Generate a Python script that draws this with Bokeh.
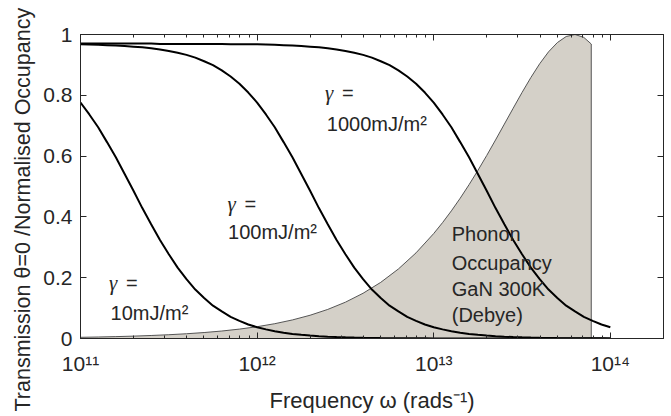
from bokeh.plotting import figure
from bokeh.models import Range1d, LinearAxis, LogAxis, FixedTicker, Label, NumeralTickFormatter, Title
from bokeh.embed import file_html
from bokeh.resources import INLINE

# ---- data ----
# log10 of angular frequency (rad/s): 11.00, 11.05, ..., 14.00
log_omega = [11.00 + 0.05 * i for i in range(61)]

trans_10 = [0.776, 0.737, 0.695, 0.646, 0.596, 0.541, 0.486, 0.429, 0.376, 0.324,
            0.277, 0.233, 0.195, 0.161, 0.133, 0.108, 0.089, 0.071, 0.058, 0.046,
            0.037, 0.030, 0.024, 0.019, 0.015, 0.012, 0.0097, 0.0076, 0.0061, 0.0049,
            0.0039, 0.0031, 0.0024, 0.0019, 0.0015, 0.0012, 0.0010, 0.0008, 0.0006, 0.0005,
            0.0004, 0.0003, 0.0002, 0.0002, 0.0001, 0.0001, 0.0001, 0.0, 0.0, 0.0,
            0.0, 0.0, 0.0, 0.0, 0.0, 0.0, 0.0, 0.0, 0.0, 0.0, 0.0]

trans_100 = [0.968, 0.967, 0.966, 0.965, 0.964, 0.962, 0.960, 0.958, 0.955, 0.951,
             0.946, 0.940, 0.933, 0.924, 0.912, 0.899, 0.882, 0.862, 0.838, 0.809,
             0.776, 0.737, 0.695, 0.646, 0.596, 0.541, 0.486, 0.429, 0.376, 0.324,
             0.277, 0.233, 0.195, 0.161, 0.133, 0.108, 0.089, 0.071, 0.058, 0.046,
             0.037, 0.030, 0.024, 0.019, 0.015, 0.012, 0.0097, 0.0076, 0.0061, 0.0049,
             0.0039, 0.0031, 0.0024, 0.0019, 0.0015, 0.0012, 0.0010, 0.0008, 0.0006, 0.0005, 0.0004]

trans_1000 = [0.970, 0.970, 0.970, 0.970, 0.970, 0.970, 0.970, 0.970, 0.970, 0.969,
              0.969, 0.969, 0.969, 0.969, 0.969, 0.969, 0.969, 0.968, 0.968, 0.968,
              0.968, 0.967, 0.966, 0.965, 0.964, 0.962, 0.960, 0.958, 0.955, 0.951,
              0.946, 0.940, 0.933, 0.924, 0.912, 0.899, 0.882, 0.862, 0.838, 0.809,
              0.776, 0.737, 0.695, 0.646, 0.596, 0.541, 0.486, 0.429, 0.376, 0.324,
              0.277, 0.233, 0.195, 0.161, 0.133, 0.108, 0.089, 0.071, 0.058, 0.046, 0.037]

# phonon occupancy (GaN 300K, Debye), normalised
occ_log_omega = [11.0, 11.1, 11.2, 11.3, 11.4, 11.5, 11.6, 11.7, 11.8, 11.9,
                 12.0, 12.1, 12.2, 12.3, 12.4, 12.5, 12.6, 12.7, 12.8, 12.9,
                 13.0, 13.05, 13.1, 13.15, 13.2, 13.25, 13.3, 13.35, 13.4, 13.45,
                 13.5, 13.55, 13.6, 13.65, 13.7, 13.75, 13.8, 13.85, 13.892]
occupancy = [0.0039, 0.0049, 0.0062, 0.0078, 0.0099, 0.0124, 0.0156, 0.0196, 0.0246, 0.0309,
             0.0388, 0.0487, 0.0611, 0.0765, 0.0957, 0.1194, 0.1488, 0.1847, 0.2287, 0.2818,
             0.3453, 0.3812, 0.4199, 0.4615, 0.5059, 0.5528, 0.6020, 0.6531, 0.7053, 0.7576,
             0.8092, 0.8585, 0.9038, 0.9429, 0.9734, 0.9934, 1.0, 0.9904, 0.9687]

x_ticks = [1e11, 1e12, 1e13, 1e14]
x_tick_labels = ["10\u00b9\u00b9", "10\u00b9\u00b2", "10\u00b9\u00b3", "10\u00b9\u2074"]
y_ticks = [0, 0.2, 0.4, 0.6, 0.8, 1]

curve_labels = ["10mJ/m\u00b2", "100mJ/m\u00b2", "1000mJ/m\u00b2"]
phonon_label = ["Phonon", "Occupancy", "GaN 300K", "(Debye)"]

# ---- derived ----
omega = [10 ** v for v in log_omega]
occ_omega = [10 ** v for v in occ_log_omega]
patch_x = [occ_omega[0]] + occ_omega + [occ_omega[-1]]
patch_y = [0.0] + occupancy + [0.0]
minor = [k * 10 ** d for d in (11, 12, 13) for k in range(2, 10)]

AX = "#262626"
FONT = "Liberation Sans"

p = figure(width=671, height=416, x_axis_type="log",
           x_range=Range1d(1e11, 2e14), y_range=Range1d(0, 1),
           output_backend="svg", toolbar_location=None,
           min_border_left=80, min_border_right=8, min_border_top=34, min_border_bottom=78)
p.grid.visible = False
p.outline_line_color = AX
p.outline_line_width = 1
p.background_fill_color = "white"
p.border_fill_color = "white"

# shaded occupancy
p.patch(patch_x, patch_y, fill_color="#d4d0c8", line_color="#555555", line_width=1)

# transmission curves
for ys in (trans_10, trans_100, trans_1000):
    p.line(omega, ys, line_color="black", line_width=2)

def style_axis(ax, show_labels):
    ax.axis_line_color = AX
    ax.major_tick_line_color = AX
    ax.minor_tick_line_color = AX
    ax.major_tick_in = 6
    ax.major_tick_out = 0
    ax.minor_tick_in = 3
    ax.minor_tick_out = 0
    ax.major_label_text_font = FONT
    if show_labels:
        ax.major_label_text_font_size = "21px"
        ax.major_label_text_color = AX
    else:
        ax.major_label_text_font_size = "1px"
        ax.major_label_text_color = None
        ax.major_label_standoff = 0

xb = p.xaxis[0]
xb.ticker = FixedTicker(ticks=x_ticks, minor_ticks=minor)
xb.major_label_overrides = dict(zip(x_ticks, x_tick_labels))
style_axis(xb, True)
xb.major_label_standoff = 13
xb.axis_label = "Frequency \u03c9 (rads\u207b\u00b9)"
xb.axis_label_text_font = FONT
xb.axis_label_text_font_style = "normal"
xb.axis_label_text_font_size = "22px"
xb.axis_label_text_color = AX
xb.axis_label_standoff = 10

yl = p.yaxis[0]
yl.ticker = FixedTicker(ticks=y_ticks, minor_ticks=[])
yl.formatter = NumeralTickFormatter(format="0.[0]")
style_axis(yl, True)
yl.major_label_standoff = 8

xt = LogAxis(ticker=FixedTicker(ticks=x_ticks, minor_ticks=minor))
style_axis(xt, False)
p.add_layout(xt, "above")
yr = LinearAxis(ticker=FixedTicker(ticks=y_ticks, minor_ticks=[]))
style_axis(yr, False)
p.add_layout(yr, "right")

# y axis label as a left-side title, anchored below the frame to match the reference
p.add_layout(Title(text="Transmission \u03b8=0 /Normalised Occupancy", align="left",
                   offset=-73, text_font=FONT, text_font_size="21.5px",
                   text_font_style="normal", text_color=AX, standoff=12), "left")

# gamma annotations
gamma_pos = [(1.45e11, 0.181, 1.48e11, 0.0855),
             (6.8e11, 0.444, 6.85e11, 0.349),
             (2.42e12, 0.809, 2.48e12, 0.707)]
for (gx, gy, lx, ly), txt in zip(gamma_pos, curve_labels):
    p.add_layout(Label(x=gx, y=gy, text="\u03b3", text_font="Liberation Serif",
                       text_font_style="italic", text_font_size="21px",
                       text_baseline="middle", text_color=AX))
    p.add_layout(Label(x=gx, y=gy, x_offset=17, text="=", text_font=FONT,
                       text_font_size="20px", text_baseline="middle", text_color=AX))
    p.add_layout(Label(x=lx, y=ly, text=txt, text_font=FONT,
                       text_font_size="20px", text_baseline="middle", text_color=AX))

for yv, txt in zip([0.345, 0.25, 0.164, 0.076], phonon_label):
    p.add_layout(Label(x=1.265e13, y=yv, text=txt, text_font=FONT,
                       text_font_size="20px", text_baseline="middle", text_color=AX))

open("out.html", "w").write(file_html(p, INLINE))
